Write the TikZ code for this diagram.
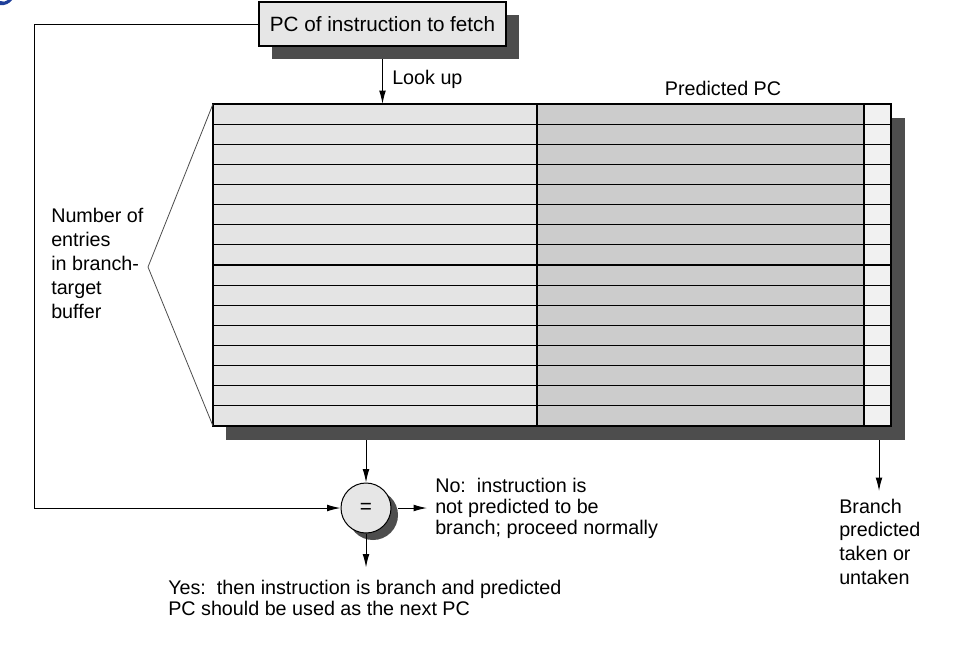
\documentclass[tikz,border=0pt]{standalone}
\usepackage{fontspec}
\setmainfont{Liberation Sans}
\usetikzlibrary{positioning,arrows.meta}
\definecolor{boxgray}{HTML}{E6E6E6}
\definecolor{tagcell}{HTML}{E4E4E4}
\definecolor{pccell}{HTML}{CCCCCC}
\definecolor{bitcell}{HTML}{F1F1F1}
\definecolor{shadowgray}{HTML}{4D4D4D}
\definecolor{titleblue}{HTML}{1F3F9A}
\tikzset{
  lbl/.style={align=left, inner sep=0pt},
  arr/.style={-{Latex[length=10pt,width=5pt]}, line width=0.75pt},
  cell/.style={line width=0.9pt},
}
\begin{document}
\begin{tikzpicture}[x=0.75pt, y=-0.75pt]
        \useasboundingbox (0,0) rectangle (967,644);
        \fill[titleblue] (0,5) .. controls (5,6) and (10,3) .. (12,0) -- (8,0) .. controls (6,2) and (3,2) .. (0,1) -- cycle;

        % PC box with shadow
        \node[fill=shadowgray, minimum width=0.75*247pt, minimum height=0.75*44pt, inner sep=0pt] (pcshadow) at (395.5,37) {};
        \node[draw, fill=boxgray, line width=0.9pt, minimum width=0.75*247pt, minimum height=0.75*44pt, inner sep=0pt, font=\fontsize{15.5}{18}\selectfont] (pc) at (382.5,24) {PC of instruction to fetch};

        % branch-target buffer
        \fill[shadowgray] (226,118) rectangle (905,440);
        \fill[tagcell] (213,104) rectangle (537,426);
        \fill[pccell] (537,104) rectangle (864,426);
        \fill[bitcell] (864,104) rectangle (891,426);
        \foreach \i in {1,...,15}
            \draw[cell] (213,{104+\i*20.125}) -- (891,{104+\i*20.125});
        \draw[cell] (213,104) rectangle (891,426);
        \draw[cell] (537,104) -- (537,426);
        \draw[cell] (864,104) -- (864,426);
        \coordinate (btbtop) at (550,104);
        \coordinate (btbfoot) at (565,440);

        \draw[gray!60!black, line width=0.6pt] (213,104) -- (148,267) -- (213,426);

        % compare
        \node[circle, fill=shadowgray, minimum size=0.75*50pt, inner sep=0pt] (cmpshadow) at (373,515) {};
        \node[circle, draw, fill=boxgray, line width=0.75pt, minimum size=0.75*50pt, inner sep=0pt, font=\fontsize{15.5}{18}\selectfont] (cmp) at (366,508) {=};

        % labels
        \node[lbl, anchor=west, font=\fontsize{14.8}{18}\selectfont] (lookup) at (392,79) {Look up};
        \node[lbl, font=\fontsize{14.8}{18}\selectfont] (predpc) at (723,88) {Predicted PC};
        \node[lbl, anchor=west, font=\fontsize{14.8}{18}\selectfont] (entries) at (51,263) {Number of\\entries\\in branch-\\target\\buffer};
        \node[lbl, anchor=west, font=\fontsize{14.8}{15.75}\selectfont] (no) at (435,508) {No:\ \ instruction is\\not predicted to be\\branch; proceed normally};
        \node[lbl, anchor=west, font=\fontsize{14.8}{15.75}\selectfont] (yes) at (168,597.5) {Yes:\ \ then instruction is branch and predicted\\PC should be used as the next PC};
        \node[lbl, anchor=west, font=\fontsize{14.8}{17.75}\selectfont] (taken) at (839,541.5) {Branch\\predicted\\taken or\\untaken};
        \coordinate (loop) at (34,508);
        \coordinate (takenend) at (879,491);

        % connectors
        \draw[arr] (pc.south |- pcshadow.south) -- (pc.south |- btbtop);
        \draw[line width=0.75pt] (pc.west) -| (loop);
        \draw[arr] (loop) -- (cmp.west);
        \draw[arr] (cmp.north |- btbfoot) -- (cmp.north);
        \draw[arr, shorten >=6pt] (cmpshadow.east |- cmp) -- (no.west |- cmp);
        \draw[arr, shorten >=9pt] (cmp.south) -- (cmp.south |- yes.north);
        \draw[arr] (takenend |- btbfoot) -- (takenend);
\end{tikzpicture}
\end{document}
